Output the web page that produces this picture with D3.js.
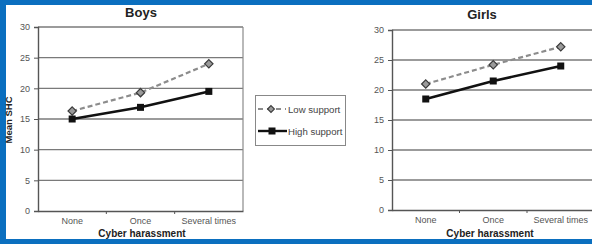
<!DOCTYPE html>
<html>
<head>
<meta charset="utf-8">
<script src="https://cdn.jsdelivr.net/npm/d3@7"></script>
<style>
  body { margin: 0; background: #fff; }
  svg { display: block; font-family: "Liberation Sans", Arial, sans-serif; }
</style>
</head>
<body>
<div id="wrapper"></div>
<script>
const categories = ["None", "Once", "Several times"];
const yTicks = [0, 5, 10, 15, 20, 25, 30];
const boysLow = [16.3, 19.3, 24.0];
const boysHigh = [15.0, 16.9, 19.5];
const girlsLow = [21.0, 24.2, 27.2];
const girlsHigh = [18.5, 21.5, 24.0];
const seriesNames = ["Low support", "High support"];

const width = 592, height = 244;

const svg = d3.select("#wrapper").append("svg")
    .attr("width", width)
    .attr("height", height);

// blue frame
svg.append("rect").attr("width", width).attr("height", height).attr("fill", "#0b6fbf");
svg.append("rect").attr("x", 6).attr("y", 5).attr("width", width - 6).attr("height", 234).attr("fill", "#fff");

const panels = [
    { title: "Boys", low: boysLow, high: boysHigh, x0: 38, x1: 243, yBottom: 211, yTop: 27, titleX: 141, titleY: 17 },
    { title: "Girls", low: girlsLow, high: girlsHigh, x0: 392, x1: 594.5, yBottom: 210, yTop: 30, titleX: 482, titleY: 19 }
];

function drawPanel(p) {
    const g = svg.append("g");
    const xScaler = d3.scaleBand().domain(categories).range([p.x0, p.x1]);
    const xPos = d => xScaler(d) + xScaler.bandwidth() / 2;
    const yScaler = d3.scaleLinear().domain([0, 30]).range([p.yBottom, p.yTop]);

    // gridlines
    g.append("g").selectAll("line").data(yTicks.filter(d => d > 0)).join("line")
        .attr("x1", p.x0).attr("x2", p.x1)
        .attr("y1", d => yScaler(d)).attr("y2", d => yScaler(d))
        .attr("stroke", "#7a7a7a").attr("stroke-width", 1.4);
    // right border
    g.append("line").attr("x1", p.x1).attr("x2", p.x1)
        .attr("y1", p.yTop).attr("y2", p.yBottom)
        .attr("stroke", "#8a8a8a").attr("stroke-width", 1.2);

    // y axis
    const yAxis = d3.axisLeft(yScaler).tickValues(yTicks).tickSize(4).tickPadding(4);
    const ya = g.append("g").attr("transform", `translate(${p.x0},0)`).call(yAxis);
    ya.select(".domain").attr("stroke", "#555").attr("stroke-width", 1.4);
    ya.selectAll(".tick line").attr("stroke", "#555");
    ya.selectAll("text").attr("font-size", 9).attr("fill", "#555").attr("font-family", "Liberation Sans, Arial, sans-serif");

    // x axis
    const xa = g.append("g").attr("transform", `translate(0,${p.yBottom})`)
        .call(d3.axisBottom(xScaler).tickSize(0).tickPadding(7));
    xa.select(".domain").attr("stroke", "#555").attr("stroke-width", 1.4);
    xa.selectAll("text").attr("font-size", 9).attr("fill", "#555").attr("font-family", "Liberation Sans, Arial, sans-serif");
    // tick marks between categories
    g.append("g").selectAll("line").data(categories.slice(1)).join("line")
        .attr("x1", d => xScaler(d)).attr("x2", d => xScaler(d))
        .attr("y1", p.yBottom).attr("y2", p.yBottom + 3)
        .attr("stroke", "#555");

    // titles
    g.append("text").attr("x", p.titleX).attr("y", p.titleY)
        .attr("text-anchor", "middle").attr("font-size", 13).attr("font-weight", "bold")
        .attr("fill", "#222").text(p.title);
    g.append("text").attr("x", p.title === "Girls" ? 490 : 142).attr("y", 237)
        .attr("text-anchor", "middle").attr("font-size", 10).attr("font-weight", "bold")
        .attr("fill", "#222").text("Cyber harassment");

    const line = d3.line().x((d, i) => xPos(categories[i])).y(d => yScaler(d));

    // low support: dashed gray with diamonds
    g.append("path").datum(p.low).attr("d", line)
        .attr("fill", "none").attr("stroke", "#8c8c8c").attr("stroke-width", 2.2)
        .attr("stroke-dasharray", "5,3");
    g.append("g").selectAll("path").data(p.low).join("path")
        .attr("d", d3.symbol(d3.symbolDiamond2, 44))
        .attr("transform", (d, i) => `translate(${xPos(categories[i])},${yScaler(d)})`)
        .attr("fill", "#9a9a9a").attr("stroke", "#3a3a3a").attr("stroke-width", 1.2);

    // high support: solid black with squares
    g.append("path").datum(p.high).attr("d", line)
        .attr("fill", "none").attr("stroke", "#111").attr("stroke-width", 2.6);
    g.append("g").selectAll("rect").data(p.high).join("rect")
        .attr("x", (d, i) => xPos(categories[i]) - 3.5)
        .attr("y", d => yScaler(d) - 3.5)
        .attr("width", 7).attr("height", 7).attr("fill", "#111");
}

panels.forEach(drawPanel);

// y axis title
svg.append("text")
    .attr("transform", "translate(12,120) rotate(-90)")
    .attr("text-anchor", "middle").attr("font-size", 9.5).attr("font-weight", "bold")
    .attr("fill", "#222").text("Mean SHC");

// legend
const legend = svg.append("g");
legend.append("rect").attr("x", 255.5).attr("y", 95.5).attr("width", 90).attr("height", 50)
    .attr("fill", "#fff").attr("stroke", "#888").attr("stroke-width", 1);
const legendY = [109, 131];
seriesNames.forEach((name, i) => {
    const y = legendY[i];
    const row = legend.append("g");
    if (i === 0) {
        row.append("line").attr("x1", 258).attr("x2", 286).attr("y1", y).attr("y2", y)
            .attr("stroke", "#8c8c8c").attr("stroke-width", 2).attr("stroke-dasharray", "5,4");
        row.append("path").attr("d", d3.symbol(d3.symbolDiamond2, 30))
            .attr("transform", `translate(271,${y})`)
            .attr("fill", "#9a9a9a").attr("stroke", "#3a3a3a").attr("stroke-width", 1.1);
    } else {
        row.append("line").attr("x1", 258).attr("x2", 287).attr("y1", y).attr("y2", y)
            .attr("stroke", "#111").attr("stroke-width", 2.4);
        row.append("rect").attr("x", 268.5).attr("y", y - 3.5).attr("width", 7).attr("height", 7).attr("fill", "#111");
    }
    row.append("text").attr("x", 288).attr("y", y + 3.5).attr("font-size", 9.6)
        .attr("fill", "#444").text(name);
});
</script>
</body>
</html>
